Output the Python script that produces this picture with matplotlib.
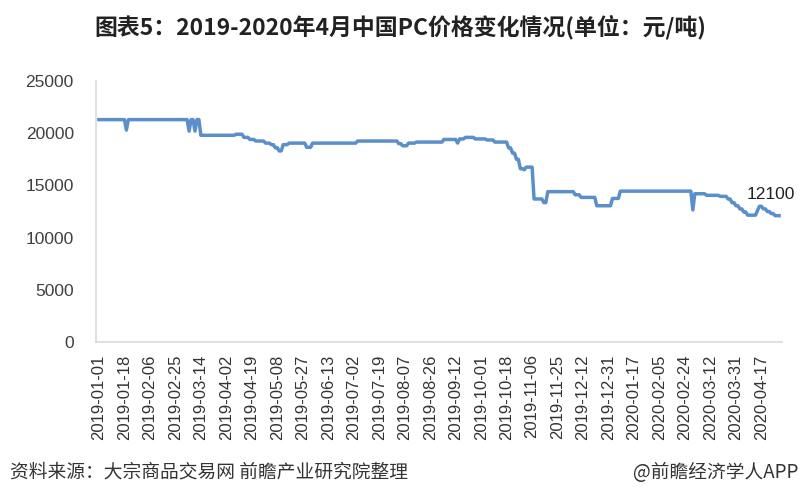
import matplotlib
matplotlib.use("Agg")
import matplotlib.pyplot as plt
import pandas as pd

# ---- data -------------------------------------------------------------
# price change points (date, yuan/ton); the price holds until the next change
change_dates = [
    "2019-01-01", "2019-01-21", "2019-01-22", "2019-03-06", "2019-03-07",
    "2019-03-11", "2019-03-12", "2019-03-14", "2019-04-09", "2019-04-15",
    "2019-04-18", "2019-04-23", "2019-04-30", "2019-05-03", "2019-05-07",
    "2019-05-09", "2019-05-13", "2019-05-16", "2019-05-29", "2019-06-03",
    "2019-07-04", "2019-08-02", "2019-08-06", "2019-08-09", "2019-08-15",
    "2019-09-04", "2019-09-13", "2019-09-16", "2019-09-19", "2019-09-26",
    "2019-10-04", "2019-10-10", "2019-10-21", "2019-10-23", "2019-10-25",
    "2019-10-29", "2019-10-31", "2019-11-01", "2019-11-07", "2019-11-14",
    "2019-11-18", "2019-12-06", "2019-12-11", "2019-12-23", "2020-01-02",
    "2020-01-08", "2020-02-28", "2020-03-02", "2020-03-10", "2020-03-19",
    "2020-03-25", "2020-03-27", "2020-03-31", "2020-04-02", "2020-04-06",
    "2020-04-08", "2020-04-15", "2020-04-16", "2020-04-20", "2020-04-22",
    "2020-04-24", "2020-04-28",
]
change_values = [
    21300, 20300, 21300, 20200, 21300,
    20200, 21300, 19800, 19900, 19600,
    19400, 19250, 19050, 18900, 18600,
    18300, 18900, 19050, 18650, 19050,
    19250, 19000, 18800, 19050, 19150,
    19400, 19050, 19450, 19600, 19450,
    19350, 19150, 18600, 18100, 17500,
    16600, 16500, 16750, 13700, 13350,
    14400, 14100, 13850, 13050, 13750,
    14450, 12650, 14200, 14050, 13950,
    13700, 13350, 13050, 12750, 12450,
    12150, 12600, 13000, 12750, 12500,
    12300, 12100,
]
start_date = "2019-01-01"
end_date = "2020-04-30"
last_label = "12100"

title = "图表5：2019-2020年4月中国PC价格变化情况(单位：元/吨)"
source = "资料来源：大宗商品交易网 前瞻产业研究院整理"
credit = "@前瞻经济学人APP"
y_ticks = [0, 5000, 10000, 15000, 20000, 25000]

# ---- build daily (trading-day) series ---------------------------------
days = pd.bdate_range(start_date, end_date)
s = pd.Series(change_values, index=pd.to_datetime(change_dates))
daily = s.reindex(days, method="ffill")
xpos = list(range(len(days)))
tick_idx = list(range(0, len(days), 13))
tick_lbl = [days[i].strftime("%Y-%m-%d") for i in tick_idx]

# ---- figure -----------------------------------------------------------
plt.rcParams["font.family"] = ["Liberation Sans", "Noto Sans CJK SC", "DejaVu Sans"]
fig = plt.figure(figsize=(8, 5), dpi=100)
ax = fig.add_axes([0.12, 0.316, 0.8575, 0.522])

ax.plot(xpos, daily.values, color="#5b8fca", lw=2.5, solid_joinstyle="round")

ax.set_ylim(0, 25000)
ax.set_xlim(-1.5, len(days) + 0.5)
ax.set_yticks(y_ticks)
ax.set_yticklabels([str(v) for v in y_ticks], fontsize=12.5, color="#404040")
ax.set_xticks(tick_idx)
ax.set_xticklabels(tick_lbl, rotation=90, fontsize=12, color="#333333")
ax.tick_params(axis="y", length=0, pad=16)
ax.tick_params(axis="x", length=0, pad=9)

for side in ["top", "right"]:
    ax.spines[side].set_visible(False)
for side in ["left", "bottom"]:
    ax.spines[side].set_color("#d9d9d9")
    ax.spines[side].set_linewidth(1.2)

ax.annotate(last_label, xy=(xpos[-1], daily.values[-1]),
            xytext=(-8, 21), textcoords="offset pixels",
            ha="center", va="center", fontsize=12.5, color="#222222")

fig.text(0.5, 0.946, title, ha="center", va="center", fontsize=16.5,
         fontweight="bold", color="#222222",
         family=["Noto Sans CJK SC", "DejaVu Sans"])
fig.text(0.012, 0.056, source, ha="left", va="center", fontsize=13.5,
         color="#333333", family=["Noto Sans CJK SC", "DejaVu Sans"])
fig.text(0.998, 0.056, credit, ha="right", va="center", fontsize=13.5,
         color="#333333", family=["Noto Sans CJK SC", "DejaVu Sans"])

fig.savefig("out.png", dpi=100, facecolor="white")
